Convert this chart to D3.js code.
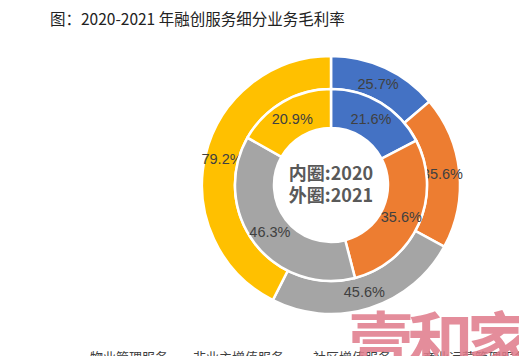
<!DOCTYPE html>
<html><head><meta charset="utf-8">
<script src="https://cdn.jsdelivr.net/npm/d3@7"></script>
<style>body{margin:0;background:#fff;}svg{display:block;}</style>
</head><body>
<svg id="c" width="519" height="356"></svg>
<script>
const categories = ["物业管理服务", "非业主增值服务", "社区增值服务", "商业运营管理服务"];
const inner2020 = [21.6, 35.6, 46.3, 20.9];
const outer2021 = [25.7, 35.6, 45.6, 79.2];
const colors = ["#4472C4", "#ED7D31", "#A5A5A5", "#FFC000"];
const title = "图：2020-2021 年融创服务细分业务毛利率";
const centerLines = ["内圈:2020", "外圈:2021"];

const svg = d3.select("#c");
const cx = 331, cy = 185;
svg.append("text").attr("x", 50).attr("y", 25)
  .attr("font-family", "'Noto Sans CJK SC', sans-serif").attr("font-size", 15.5)
  .attr("fill", "#222").text(title);

const g = svg.append("g").attr("transform", `translate(${cx},${cy})`);
const pie = d3.pie().sort(null).value(d => d);
const color = d3.scaleOrdinal().domain(d3.range(4)).range(colors);

function ring(data, r0, r1, labelR) {
  const arc = d3.arc().innerRadius(r0).outerRadius(r1);
  const la = d3.arc().innerRadius(labelR).outerRadius(labelR);
  const arcs = pie(data);
  g.append("g").selectAll("path").data(arcs).join("path")
    .attr("d", arc).attr("fill", (d, i) => color(i))
    .attr("stroke", "#fff").attr("stroke-width", 2.5);
  g.append("g").selectAll("text").data(arcs).join("text")
    .attr("transform", d => `translate(${la.centroid(d)})`)
    .attr("text-anchor", "middle").attr("dy", "0.36em")
    .attr("font-family", "'Liberation Sans', Arial, sans-serif").attr("font-size", 14.5)
    .attr("fill", "#404040")
    .text(d => d.data.toFixed(1) + "%");
}
ring(outer2021, 96, 129, 112);
ring(inner2020, 57, 96, 77);

g.selectAll("text.center").data(centerLines).join("text").attr("class", "center")
  .attr("x", 0).attr("y", (d, i) => -11 + i * 22).attr("dy", "0.36em")
  .attr("text-anchor", "middle")
  .attr("font-family", "'Noto Sans CJK SC', sans-serif").attr("font-weight", "bold")
  .attr("font-size", 18).attr("fill", "#595959").text(d => d);

// legend (cut off at bottom edge as in the source)
const lx = [90, 193, 313, 423];
const lg = svg.append("g");
categories.forEach((c, i) => {
  lg.append("rect").attr("x", lx[i] - 13).attr("y", 357).attr("width", 8).attr("height", 8).attr("fill", colors[i]);
  lg.append("text").attr("x", lx[i]).attr("y", 362)
    .attr("font-family", "'Noto Sans CJK SC', sans-serif").attr("font-size", 13)
    .attr("fill", "#404040").text(c);
});

// watermark
svg.append("text").attr("x", 348).attr("y", 367)
  .attr("font-family", "'Noto Sans CJK SC', sans-serif").attr("font-weight", "bold")
  .attr("font-size", 66).attr("fill", "#e07a8a").attr("opacity", 0.85)
  .attr("textLength", 185).text("壹和家");
</script>
</body></html>
